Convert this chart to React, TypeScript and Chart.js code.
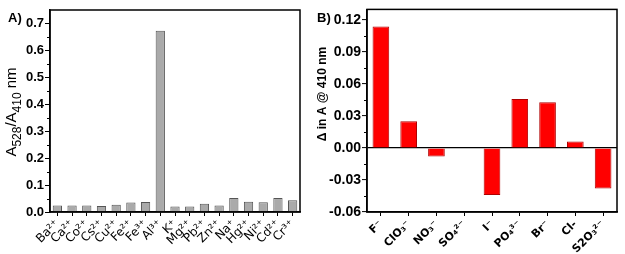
import React, { useEffect, useRef } from "react";
import { Chart, registerables } from "chart.js";

Chart.register(...registerables);

// ---- Panel A data ----
const cationLabels = ["Ba²⁺", "Ca²⁺", "Co²⁺", "Cs²⁺", "Cu²⁺", "Fe²⁺", "Fe³⁺", "Al³⁺", "K⁺", "Mg²⁺", "Pb²⁺", "Zn²⁺", "Na⁺", "Hg²⁺", "Ni²⁺", "Cd²⁺", "Cr³⁺"];
const cationRatio = [0.024, 0.024, 0.024, 0.022, 0.027, 0.035, 0.037, 0.673, 0.020, 0.020, 0.031, 0.024, 0.052, 0.038, 0.036, 0.052, 0.044];
const ratioTicks = [0, 0.1, 0.2, 0.3, 0.4, 0.5, 0.6, 0.7];

// ---- Panel B data ----
const anionLabels = ["F⁻", "ClO₃⁻", "NO₃⁻", "SO₄²⁻", "I⁻", "PO₄³⁻", "Br⁻", "Cl-", "S2O₃²⁻"];
const anionDelta = [0.114, 0.025, -0.008, 0, -0.044, 0.046, 0.043, 0.006, -0.038];
const deltaTicks = [-0.06, -0.03, 0, 0.03, 0.06, 0.09, 0.12];

const FAMILY = "'Liberation Sans', Arial, sans-serif";
const LABEL_FAMILY = "'DejaVu Sans', 'Liberation Sans', sans-serif";

type Seg = { t: string; sub?: boolean };

function makeDecor(opts: { panel: string; panelX: number; panelY: number; titleX: number; titleY: number; title: Seg[]; size: number; subSize: number; weight: string }) {
  return {
    id: "decor",
    afterDraw(chart: any) {
      const { ctx, chartArea: a } = chart;
      const y = chart.scales.y;
      ctx.save();
      ctx.strokeStyle = "#000";
      ctx.lineWidth = 1.5;
      ctx.strokeRect(a.left, a.top, a.right - a.left, a.bottom - a.top);
      ctx.lineWidth = 1;
      const vals = y.ticks.map((t: any) => t.value);
      for (let i = 0; i < vals.length - 1; i++) {
        const p = Math.round(y.getPixelForValue((vals[i] + vals[i + 1]) / 2)) + 0.5;
        ctx.beginPath();
        ctx.moveTo(a.left - 3, p);
        ctx.lineTo(a.left, p);
        ctx.stroke();
      }
      ctx.fillStyle = "#000";
      ctx.font = `bold 13px ${FAMILY}`;
      ctx.textBaseline = "alphabetic";
      ctx.textAlign = "left";
      ctx.fillText(opts.panel, opts.panelX, opts.panelY);
      ctx.translate(opts.titleX, opts.titleY);
      ctx.rotate(-Math.PI / 2);
      const fonts = opts.title.map((s) => `${opts.weight} ${s.sub ? opts.subSize : opts.size}px ${FAMILY}`);
      let total = 0;
      const widths = opts.title.map((s, i) => {
        ctx.font = fonts[i];
        const w = ctx.measureText(s.t).width;
        total += w;
        return w;
      });
      let x = -total / 2;
      opts.title.forEach((s, i) => {
        ctx.font = fonts[i];
        ctx.fillText(s.t, x, s.sub ? opts.size * 0.35 : 0);
        x += widths[i];
      });
      ctx.restore();
    },
  };
}

export default function App() {
  const refA = useRef<HTMLCanvasElement>(null);
  const refB = useRef<HTMLCanvasElement>(null);

  useEffect(() => {
    const chartA = new Chart(refA.current!, {
      type: "bar",
      data: {
        labels: cationLabels,
        datasets: [
          {
            data: cationRatio,
            backgroundColor: "#aaaaaa",
            borderColor: "#555555",
            borderWidth: 1,
            barPercentage: 0.63,
            categoryPercentage: 1,
          },
        ],
      },
      options: {
        animation: false,
        responsive: false,
        maintainAspectRatio: false,
        layout: { padding: { top: 10, right: 5, left: 0, bottom: 0 } },
        plugins: { legend: { display: false }, tooltip: { enabled: false } },
        scales: {
          x: {
            grid: { display: true, drawOnChartArea: false, offset: false, tickLength: 4, color: "#000", tickColor: "#000" },
            border: { display: true, color: "#000", width: 1.5 },
            ticks: { autoSkip: false, minRotation: 45, maxRotation: 45, padding: 1, color: "#000", font: { family: LABEL_FAMILY, size: 12 } },
            afterFit: (s: any) => {
              s.height = 42;
            },
          },
          y: {
            min: 0,
            max: 0.75,
            afterBuildTicks: (s: any) => {
              s.ticks = ratioTicks.map((v) => ({ value: v }));
            },
            ticks: { callback: (v: any) => Number(v).toFixed(1), color: "#000", padding: 1, font: { family: FAMILY, size: 13, weight: "bold" } },
            grid: { drawOnChartArea: false, tickLength: 5, color: "#000", tickColor: "#000" },
            border: { display: true, color: "#000", width: 1.5 },
            afterFit: (s: any) => {
              s.width = 50;
            },
          },
        },
      },
      plugins: [
        makeDecor({
          panel: "A)",
          panelX: 8,
          panelY: 22,
          titleX: 16,
          titleY: 112,
          title: [{ t: "A" }, { t: "528", sub: true }, { t: "/A" }, { t: "410", sub: true }, { t: " nm" }],
          size: 15,
          subSize: 12,
          weight: "normal",
        }),
      ],
    } as any);

    const chartB = new Chart(refB.current!, {
      type: "bar",
      data: {
        labels: anionLabels,
        datasets: [
          {
            data: anionDelta,
            backgroundColor: "#ff0000",
            borderColor: "#b00000",
            borderWidth: 1,
            barPercentage: 0.6,
            categoryPercentage: 1,
          },
        ],
      },
      options: {
        animation: false,
        responsive: false,
        maintainAspectRatio: false,
        layout: { padding: { top: 9, right: 8, left: 0, bottom: 0 } },
        plugins: { legend: { display: false }, tooltip: { enabled: false } },
        scales: {
          x: {
            grid: { display: true, drawOnChartArea: false, offset: false, tickLength: 4, color: "#000", tickColor: "#000" },
            border: { display: true, color: "#000", width: 1.5 },
            ticks: { autoSkip: false, minRotation: 45, maxRotation: 45, padding: 2, color: "#000", font: { family: LABEL_FAMILY, size: 11, weight: "bold" } },
            afterFit: (s: any) => {
              s.height = 42;
            },
          },
          y: {
            min: -0.06,
            max: 0.13,
            afterBuildTicks: (s: any) => {
              s.ticks = deltaTicks.map((v) => ({ value: v }));
            },
            ticks: { callback: (v: any) => Number(v).toFixed(2), color: "#000", padding: 1, font: { family: FAMILY, size: 14, weight: "bold" } },
            grid: {
              drawOnChartArea: true,
              tickLength: 5,
              color: (c: any) => (c.tick && Math.abs(c.tick.value) < 1e-9 ? "#000" : "rgba(0,0,0,0)"),
              lineWidth: 1.2,
              tickColor: "#000",
              tickWidth: 1,
            },
            border: { display: true, color: "#000", width: 1.5 },
            afterFit: (s: any) => {
              s.width = 62;
            },
          },
        },
      },
      plugins: [
        makeDecor({
          panel: "B)",
          panelX: 12,
          panelY: 22,
          titleX: 21,
          titleY: 94,
          title: [{ t: "Δ in A @ 410 nm" }],
          size: 12,
          subSize: 12,
          weight: "bold",
        }),
      ],
    } as any);

    return () => {
      chartA.destroy();
      chartB.destroy();
    };
  }, []);

  return (
    <div style={{ position: "fixed", left: 0, top: 0, width: 625, height: 254, background: "#fff" }}>
      <canvas ref={refA} width={305} height={254} style={{ position: "absolute", left: 0, top: 0, width: 305, height: 254 }} />
      <canvas ref={refB} width={320} height={254} style={{ position: "absolute", left: 305, top: 0, width: 320, height: 254 }} />
    </div>
  );
}
